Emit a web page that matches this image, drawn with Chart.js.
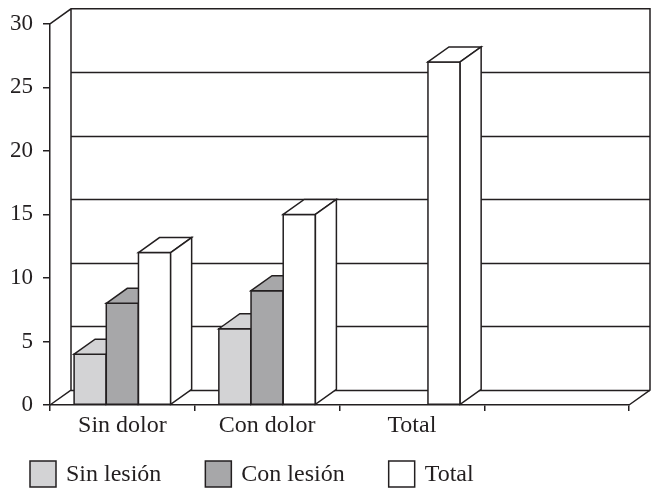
<!DOCTYPE html>
<html>
<head>
<meta charset="utf-8">
<script src="https://cdn.jsdelivr.net/npm/chart.js@4.4.0/dist/chart.umd.min.js"></script>
<style>
  html, body { margin: 0; padding: 0; background: #ffffff; }
  #wrap { width: 651px; height: 489px; position: relative; }
</style>
</head>
<body>
<div id="wrap"><canvas id="chart"></canvas></div>
<script>
// Categories on the horizontal axis (the last slot is left empty)
const categories = ['Sin dolor', 'Con dolor', 'Total', ''];

// Series values per category
const sinLesion = [4, 6, null, null];
const conLesion = [8, 9, null, null];
const total     = [12, 15, 27, null];

// Series names and vertical tick values
const seriesNames = ['Sin lesión', 'Con lesión', 'Total'];
const yTickValues = [0, 5, 10, 15, 20, 25, 30];

const FONT = "'Liberation Serif', 'Times New Roman', serif";
const INK = '#231f20';
const FILLS = ['#d3d3d5', '#a7a7a9', '#ffffff'];
const DX = 21, DY = -15;   // oblique depth offset of the 3D box

// Draws the box (walls, floor, back gridlines) and the 3D columns
const depthPlugin = {
  id: 'depth3d',
  beforeDatasetsDraw(chart) {
    const { ctx, chartArea: a } = chart;
    const yScale = chart.scales.y;
    ctx.save();
    ctx.lineJoin = 'miter';
    ctx.strokeStyle = INK;
    ctx.lineWidth = 1.5;

    // gridlines on the back wall
    ctx.beginPath();
    yTickValues.forEach(v => {
      if (v === yScale.max) return;
      const py = Math.round(yScale.getPixelForValue(v) + DY) + 0.5;
      ctx.moveTo(a.left + DX, py);
      ctx.lineTo(a.right + DX, py);
    });
    ctx.stroke();

    // outline of walls and floor
    ctx.beginPath();
    ctx.moveTo(a.left, a.top);
    ctx.lineTo(a.left + DX, a.top + DY);
    ctx.lineTo(a.right + DX, a.top + DY);
    ctx.lineTo(a.right + DX, a.bottom + DY);
    ctx.lineTo(a.right, a.bottom);
    ctx.moveTo(a.left, a.bottom);
    ctx.lineTo(a.left + DX, a.bottom + DY);
    ctx.lineTo(a.left + DX, a.top + DY);
    ctx.stroke();

    // columns, left to right so nearer faces overlap correctly
    const sets = chart.data.datasets;
    for (let i = 0; i < chart.data.labels.length; i++) {
      for (let d = 0; d < sets.length; d++) {
        const v = sets[d].data[i];
        if (v === null || v === undefined) continue;
        const el = chart.getDatasetMeta(d).data[i];
        const { x, y, base, width } = el.getProps(['x', 'y', 'base', 'width'], true);
        const L = x - width / 2, R = x + width / 2;
        ctx.fillStyle = sets[d].backgroundColor;
        // front
        ctx.beginPath();
        ctx.rect(L, y, R - L, base - y);
        ctx.fill(); ctx.stroke();
        // top
        ctx.beginPath();
        ctx.moveTo(L, y);
        ctx.lineTo(L + DX, y + DY);
        ctx.lineTo(R + DX, y + DY);
        ctx.lineTo(R, y);
        ctx.closePath();
        ctx.fill(); ctx.stroke();
        // right side
        ctx.beginPath();
        ctx.moveTo(R, y);
        ctx.lineTo(R + DX, y + DY);
        ctx.lineTo(R + DX, base + DY);
        ctx.lineTo(R, base);
        ctx.closePath();
        ctx.fill(); ctx.stroke();
      }
    }
    ctx.restore();
    return false;
  }
};

// Legend row along the bottom
const legendPlugin = {
  id: 'bottomLegend',
  afterDraw(chart) {
    const { ctx } = chart;
    const box = 26, gapText = 10, gapItem = 44;
    let x = 30;
    const top = 461;
    ctx.save();
    ctx.font = '24px ' + FONT;
    ctx.textBaseline = 'middle';
    ctx.textAlign = 'left';
    chart.data.datasets.forEach(ds => {
      ctx.fillStyle = ds.backgroundColor;
      ctx.strokeStyle = INK;
      ctx.lineWidth = 1.5;
      ctx.beginPath();
      ctx.rect(x, top, box, box);
      ctx.fill(); ctx.stroke();
      ctx.fillStyle = INK;
      const tx = x + box + gapText;
      ctx.fillText(ds.label, tx, top + box / 2 + 1);
      x = tx + ctx.measureText(ds.label).width + gapItem;
    });
    ctx.restore();
  }
};

new Chart(document.getElementById('chart'), {
  type: 'bar',
  data: {
    labels: categories,
    datasets: [
      { label: seriesNames[0], data: sinLesion, backgroundColor: FILLS[0] },
      { label: seriesNames[1], data: conLesion, backgroundColor: FILLS[1] },
      { label: seriesNames[2], data: total,     backgroundColor: FILLS[2] }
    ]
  },
  options: {
    responsive: true,
    maintainAspectRatio: false,
    animation: false,
    layout: { padding: { top: 23, right: 22, left: 0, bottom: 0 } },
    datasets: { bar: { categoryPercentage: 0.667, barPercentage: 1.0 } },
    plugins: { legend: { display: false }, tooltip: { enabled: false } },
    scales: {
      x: {
        grid: { offset: true, drawOnChartArea: false, drawTicks: true, tickLength: 6, color: INK, lineWidth: 1.5 },
        border: { display: true, color: INK, width: 1.5 },
        ticks: { color: INK, font: { family: FONT, size: 24 }, padding: 0, maxRotation: 0, autoSkip: false },
        afterFit: s => { s.height = 84; }
      },
      y: {
        min: 0, max: 30,
        grid: { drawOnChartArea: false, drawTicks: true, tickLength: 7, color: INK, lineWidth: 1.5 },
        border: { display: true, color: INK, width: 1.5 },
        ticks: { stepSize: 5, color: INK, font: { family: FONT, size: 23 }, padding: 10 },
        afterFit: s => { s.width = 50; }
      }
    }
  },
  plugins: [depthPlugin, legendPlugin]
});
</script>
</body>
</html>
